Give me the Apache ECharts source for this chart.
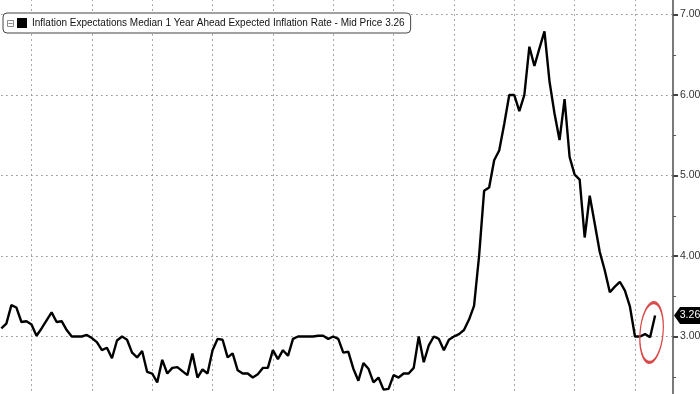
<!DOCTYPE html>
<html>
<head>
<meta charset="utf-8">
<script src="https://cdn.jsdelivr.net/npm/echarts@6/dist/echarts.min.js"></script>
<style>
html,body{margin:0;padding:0;background:#fff;}
#c{width:700px;height:394px;}
</style>
</head>
<body>
<div id="c"></div>
<script>
// Monthly readings, Jun 2013 .. Apr 2024
const seriesName = 'Inflation Expectations Median 1 Year Ahead Expected Inflation Rate - Mid Price';
const firstMonth = '2013-06';
const values = [
  3.10, 3.16, 3.39, 3.36, 3.18, 3.19, 3.15,                   // 2013 Jun-Dec
  3.01, 3.10, 3.20, 3.30, 3.18, 3.19, 3.08, 3.00, 3.00, 3.00, 3.02, 2.98, // 2014
  2.93, 2.83, 2.86, 2.73, 2.95, 3.00, 2.96, 2.80, 2.74, 2.82, 2.56, 2.54, // 2015
  2.43, 2.71, 2.54, 2.61, 2.62, 2.57, 2.52, 2.79, 2.49, 2.59, 2.54, 2.83, // 2016
  2.97, 2.96, 2.74, 2.79, 2.58, 2.54, 2.54, 2.49, 2.53, 2.61, 2.61, 2.83, // 2017
  2.72, 2.83, 2.76, 2.97, 3.00, 3.00, 3.00, 3.00, 3.01, 3.01, 2.97, 3.00, // 2018
  2.97, 2.80, 2.81, 2.60, 2.45, 2.67, 2.60, 2.43, 2.49, 2.34, 2.35, 2.52, // 2019
  2.49, 2.54, 2.54, 2.61, 3.00, 2.68, 2.89, 3.00, 2.97, 2.83, 2.96, 3.00, // 2020
  3.03, 3.08, 3.21, 3.38, 4.00, 4.81, 4.85, 5.19, 5.31, 5.64, 6.00, 6.00, // 2021
  5.80, 6.00, 6.60, 6.36, 6.58, 6.79, 6.17, 5.77, 5.44, 5.95, 5.23, 5.01, // 2022
  4.95, 4.23, 4.75, 4.40, 4.05, 3.82, 3.55, 3.62, 3.68, 3.57, 3.37, 3.00, // 2023
  3.00, 3.03, 2.99, 3.26                                      // 2024 Jan-Apr
];
// vertical grid at each December (year boundary); x unit = months since Dec 2013
const refMonth = '2013-12';
const yTickValues = [3, 4, 5, 6, 7];

function monthIndex(s){ const [y,m] = s.split('-').map(Number); return y*12 + (m-1); }
const offset = monthIndex(firstMonth) - monthIndex(refMonth);
const points = values.map((v,i) => [i + offset, v]);
const last = values[values.length-1];
const lastX = points[points.length-1][0];
const xMax = 127.56;

const chart = echarts.init(document.getElementById('c'), null, {renderer:'canvas'});
chart.setOption({
  animation:false,
  backgroundColor:'#fff',
  grid:{left:-28.85, right:27, top:-25.75, bottom:-23, containLabel:false, outerBoundsMode:'none'},
  xAxis:{
    type:'value', min:-12, max:xMax, interval:12,
    axisLine:{show:false}, axisTick:{show:false}, axisLabel:{show:false},
    splitLine:{show:true, lineStyle:{color:'#8c8c8c', width:1, type:[1.5,3.5]}}
  },
  yAxis:{
    type:'value', position:'right', min:2, max:7.5, interval:1,
    axisLine:{show:true, onZero:false, lineStyle:{color:'#7a7a7a', width:2}},
    axisTick:{show:true, length:5, lineStyle:{color:'#444', width:2}},
    minorTick:{show:true, splitNumber:2, length:3, lineStyle:{color:'#555', width:1}},
    axisLabel:{formatter:v=>v.toFixed(2), color:'#333', fontFamily:'Liberation Sans', fontSize:10.5, margin:7},
    splitLine:{show:true, lineStyle:{color:'#8c8c8c', width:1, type:[1.5,3.5]}}
  },
  legend:{
    left:3, top:13, orient:'horizontal',
    padding:[5,6,5,14], itemWidth:10, itemHeight:10, itemGap:0,
    borderColor:'#444', borderWidth:1, borderRadius:4, backgroundColor:'#fff',
    textStyle:{fontFamily:'Liberation Sans', fontSize:10, color:'#111'},
    data:[{name:seriesName, icon:'rect', itemStyle:{color:'#000'}}],
    formatter:n => n + ' ' + last.toFixed(2),
    selectedMode:false
  },
  graphic:[
    {type:'rect', left:7, top:20, z:100, shape:{width:6, height:6}, style:{fill:'#fff', stroke:'#8a8a8a', lineWidth:1}},
    {type:'line', z:101, shape:{x1:8.5, y1:23.5, x2:12.5, y2:23.5}, style:{stroke:'#8a8a8a', lineWidth:1}}
  ],
  series:[{
    type:'line', name:seriesName, data:points, symbol:'none', showSymbol:false,
    lineStyle:{color:'#000', width:2.4}, itemStyle:{color:'#000'},
    markPoint:{
      silent:true, animation:false,
      data:[
        {coord:[xMax, last], symbol:'path://M0,8 L6,0 L30,0 L30,16 L6,16 Z', symbolSize:[30,17], symbolOffset:[16,0],
         itemStyle:{color:'#000'},
         label:{show:true, formatter:last.toFixed(2), color:'#fff', fontFamily:'Liberation Sans', fontSize:10.5, offset:[1,0]}},
        {coord:[lastX-0.7, 3.05], symbol:'circle', symbolSize:[23,60], symbolRotate:-5,
         itemStyle:{color:'rgba(0,0,0,0)', borderColor:'#d94a4a', borderWidth:2},
         label:{show:false}}
      ]
    }
  }]
});
</script>
</body>
</html>
